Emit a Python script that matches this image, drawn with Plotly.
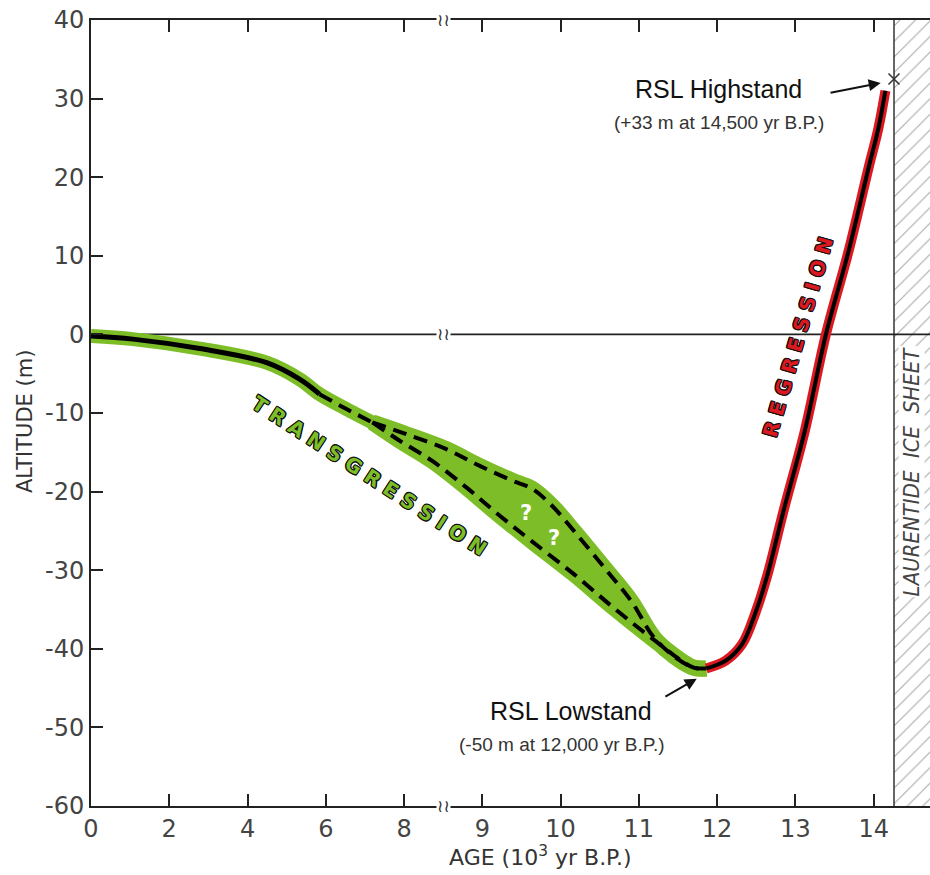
import plotly.graph_objects as go

# ---------------- data (ages in 10^3 yr B.P., altitude in m) ----------------
age_ticks = [0, 2, 4, 6, 8, 9, 10, 11, 12, 13, 14]
age_tick_labels = ["0", "2", "4", "6", "8", "9", "10", "11", "12", "13", "14"]
alt_ticks = [-60, -50, -40, -30, -20, -10, 0, 10, 20, 30, 40]
alt_tick_labels = ["-60", "-50", "-40", "-30", "-20", "-10", "0", "10", "20", "30", "40"]

# main curve (solid then dashed to the divergence point)
main_solid_age = [0.0, 1.07, 2.78, 4.49, 5.33, 5.84]
main_solid_alt = [-0.2, -0.6, -1.8, -3.6, -5.7, -7.6]
main_dash_age = [5.84, 6.53, 7.19]
main_dash_alt = [-7.6, -9.5, -11.2]

# transgression uncertainty branches
upper_age = [7.19, 8.03, 8.54, 8.96, 9.38, 9.63, 9.89, 10.17, 10.56, 10.90, 11.23, 11.67, 11.86]
upper_alt = [-11.2, -12.7, -14.6, -16.7, -18.6, -19.6, -21.8, -25.0, -29.7, -33.9, -39.0, -42.3, -42.5]
lower_age = [7.19, 7.88, 8.36, 8.80, 9.19, 9.63, 10.17, 10.68, 11.16, 11.70, 11.86]
lower_alt = [-11.2, -13.5, -16.1, -19.5, -22.8, -26.3, -30.5, -34.8, -38.6, -42.4, -42.5]

# regression curve
regr_age = [11.86, 12.11, 12.32, 12.49, 12.64, 12.85, 13.12, 13.39, 13.68, 13.94, 14.06, 14.15]
regr_alt = [-42.5, -41.5, -39.4, -35.4, -30.7, -22.4, -12.3, 0.0, 10.6, 21.4, 26.2, 31.0]

highstand_age = [14.26]
highstand_alt = [32.5]

ice_margin_age = 14.26
age_max = 14.72
break_age = 8.5

GREEN = "#7dbd27"
RED = "#dc1820"


# broken x axis: 0-8 drawn at half scale, beyond 8 at full scale
def to_axis(a):
    return a / 2.0 if a <= 8 else a - 4.0


def ax_list(lst):
    return [to_axis(a) for a in lst]


fig = go.Figure()

# Laurentide ice sheet hatched area
fig.add_trace(go.Scatter(
    x=ax_list([ice_margin_age, age_max + 0.2, age_max + 0.2, ice_margin_age]),
    y=[-60, -60, 40, 40], mode="lines", fill="toself",
    fillcolor="white", line=dict(width=0),
    fillpattern=dict(shape="/", size=11, solidity=0.1, fgcolor="#555555", bgcolor="white"),
    hoverinfo="skip", showlegend=False))
fig.add_trace(go.Scatter(
    x=ax_list([ice_margin_age, ice_margin_age]), y=[-60, 40], mode="lines",
    line=dict(color="#333333", width=1.5), hoverinfo="skip", showlegend=False))

# present sea level line
fig.add_trace(go.Scatter(
    x=ax_list([0, age_max + 0.2]), y=[0, 0], mode="lines",
    line=dict(color="#222222", width=1.6), hoverinfo="skip", showlegend=False))

SM = 1.0
# green band
fig.add_trace(go.Scatter(
    x=ax_list(upper_age + lower_age[::-1]), y=upper_alt + lower_alt[::-1],
    mode="lines", fill="toself", fillcolor=GREEN, line=dict(width=0, shape="spline", smoothing=SM),
    hoverinfo="skip", showlegend=False))
for xa, ya, w in [(main_solid_age + main_dash_age[1:], main_solid_alt + main_dash_alt[1:], 14),
                  (upper_age, upper_alt, 16), (lower_age, lower_alt, 16)]:
    fig.add_trace(go.Scatter(
        x=ax_list(xa), y=ya, mode="lines",
        line=dict(color=GREEN, width=w, shape="spline", smoothing=SM),
        hoverinfo="skip", showlegend=False))

# black curve
fig.add_trace(go.Scatter(
    x=ax_list(main_solid_age), y=main_solid_alt, mode="lines",
    line=dict(color="black", width=5, shape="spline", smoothing=SM),
    hoverinfo="skip", showlegend=False))
for xa, ya in [(main_dash_age, main_dash_alt), (upper_age, upper_alt), (lower_age, lower_alt)]:
    fig.add_trace(go.Scatter(
        x=ax_list(xa), y=ya, mode="lines",
        line=dict(color="black", width=4, dash="14px,8px", shape="spline", smoothing=SM),
        hoverinfo="skip", showlegend=False))

# regression
fig.add_trace(go.Scatter(
    x=ax_list(regr_age), y=regr_alt, mode="lines",
    line=dict(color=RED, width=10, shape="spline", smoothing=SM),
    hoverinfo="skip", showlegend=False))
fig.add_trace(go.Scatter(
    x=ax_list(regr_age), y=regr_alt, mode="lines",
    line=dict(color="black", width=4, shape="spline", smoothing=SM),
    hoverinfo="skip", showlegend=False))

# highstand cross
fig.add_trace(go.Scatter(
    x=ax_list(highstand_age), y=highstand_alt, mode="markers",
    marker=dict(symbol="x-thin-open", size=11, color="#333333", line=dict(color="#333333", width=1.5)),
    hoverinfo="skip", showlegend=False))

LABEL_FONT = "Liberation Sans, Arial, sans-serif"
outline_k = ("1px 1px 0 #111, -1px -1px 0 #111, 1px -1px 0 #111, -1px 1px 0 #111, "
             "0 1px 0 #111, 1px 0 0 #111, 0 -1px 0 #111, -1px 0 0 #111")

annotations = [
    dict(x=to_axis(12.02), y=31.2, text="RSL Highstand", showarrow=False,
         font=dict(family=LABEL_FONT, size=25, color="#111")),
    dict(x=to_axis(12.02), y=27.0, text="(+33 m at 14,500 yr B.P.)", showarrow=False,
         font=dict(family=LABEL_FONT, size=19, color="#333")),
    dict(x=to_axis(14.09), y=32.0, ax=to_axis(13.43), ay=30.7, axref="x", ayref="y",
         text="", showarrow=True, arrowhead=2, arrowsize=1.2, arrowwidth=2, arrowcolor="#111"),
    dict(x=to_axis(10.13), y=-47.9, text="RSL Lowstand", showarrow=False,
         font=dict(family=LABEL_FONT, size=25, color="#111")),
    dict(x=to_axis(10.02), y=-52.2, text="(-50 m at 12,000 yr B.P.)", showarrow=False,
         font=dict(family=LABEL_FONT, size=19, color="#333")),
    dict(x=to_axis(11.74), y=-43.8, ax=to_axis(11.32), ay=-46.2, axref="x", ayref="y",
         text="", showarrow=True, arrowhead=2, arrowsize=1.2, arrowwidth=2, arrowcolor="#111"),
    dict(x=to_axis(7.12), y=-18.0, text="T R A N S G R E S S I O N", textangle=33, showarrow=False,
         font=dict(family="DejaVu Sans, sans-serif", size=20, color=GREEN, weight="bold", shadow=outline_k)),
    dict(x=to_axis(13.03), y=-0.3, text="R E G R E S S I O N", textangle=-74, showarrow=False,
         font=dict(family="DejaVu Sans, sans-serif", size=20, color=RED, weight="bold", shadow=outline_k)),
    dict(x=to_axis(9.56), y=-22.7, text="?", showarrow=False,
         font=dict(family="DejaVu Sans, sans-serif", size=21, color="white", weight="bold")),
    dict(x=to_axis(9.92), y=-25.9, text="?", showarrow=False,
         font=dict(family="DejaVu Sans, sans-serif", size=21, color="white", weight="bold")),
    dict(x=to_axis(14.48), y=-17.4, text="LAURENTIDE  ICE  SHEET", textangle=-90, showarrow=False,
         bgcolor="white", borderpad=0,
         font=dict(family="DejaVu Sans Condensed, DejaVu Sans, sans-serif", size=22, color="#444", style="italic")),
    # axis titles
    dict(xref="paper", yref="paper", x=(25 - 91) / 839, y=(806 - 422) / 786, text="ALTITUDE (m)",
         xanchor="center", yanchor="middle",
         textangle=-90, showarrow=False, font=dict(family="DejaVu Sans, sans-serif", size=21, color="#333")),
    dict(xref="paper", yref="paper", x=(540 - 91) / 839, y=(806 - 856) / 786, text="AGE (10<sup>3</sup> yr B.P.)",
         xanchor="center", yanchor="middle",
         showarrow=False, font=dict(family="DejaVu Sans, sans-serif", size=22, color="#333")),
]
# axis break marks
for yb in [40, 0, -60]:
    annotations.append(dict(x=to_axis(break_age), y=yb, text="≀≀", showarrow=False, bgcolor="white",
                            borderpad=0, font=dict(family="DejaVu Sans", size=17, color="#333")))

fig.update_layout(
    width=930, height=875,
    margin=dict(l=91, r=0, t=20, b=69),
    paper_bgcolor="white", plot_bgcolor="white",
    showlegend=False,
    annotations=annotations,
    xaxis=dict(range=[0, to_axis(age_max)], tickvals=ax_list(age_ticks), ticktext=age_tick_labels,
               ticks="inside", ticklen=12, tickwidth=1.5, tickcolor="#222",
               showline=True, linecolor="#222", linewidth=2, mirror="ticks",
               showgrid=False, zeroline=False, automargin=False,
               tickfont=dict(family="DejaVu Sans, sans-serif", size=24, color="#444")),
    yaxis=dict(range=[-60, 40], tickvals=alt_ticks, ticktext=alt_tick_labels,
               ticks="inside", ticklen=12, tickwidth=1.5, tickcolor="#222",
               showline=True, linecolor="#222", linewidth=2,
               showgrid=False, zeroline=False, automargin=False,
               tickfont=dict(family="DejaVu Sans, sans-serif", size=24, color="#444")),
)

fig.write_html("out.html", config={"displayModeBar": False},
               post_script="document.body.style.margin='0';document.body.style.overflow='hidden';")
